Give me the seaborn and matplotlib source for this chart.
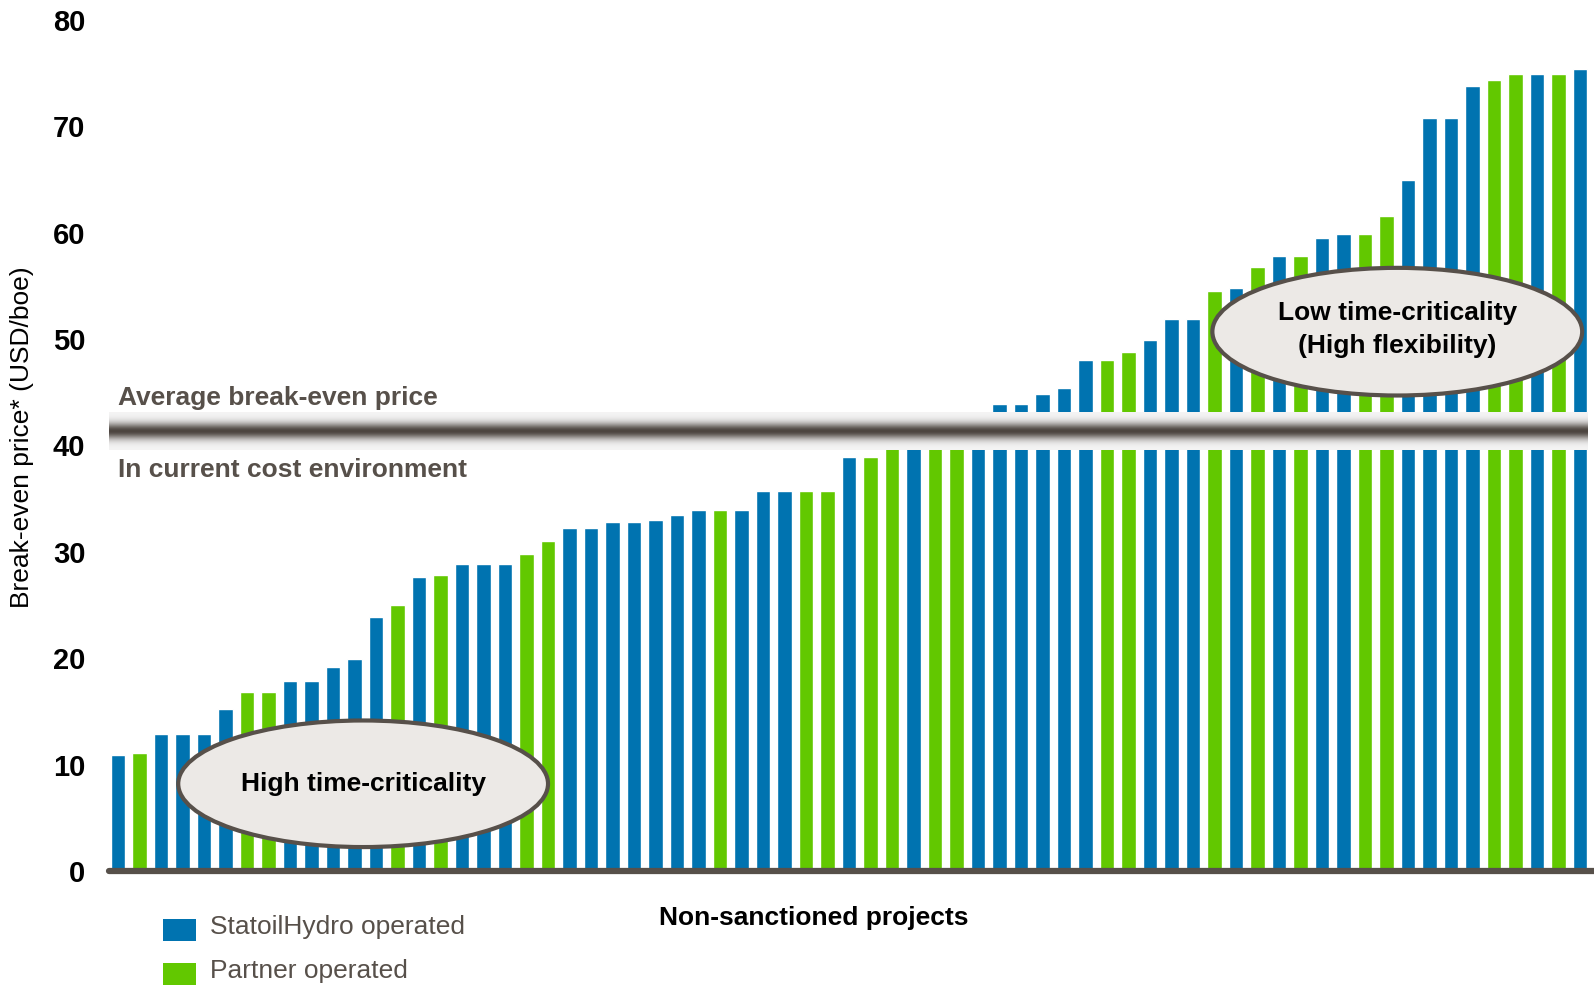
import numpy as np
import pandas as pd
import matplotlib
matplotlib.use("Agg")
import matplotlib.pyplot as plt
import seaborn as sns
from matplotlib.patches import Ellipse, Rectangle

# ---------------- data ----------------
prices = [10.9, 11.1, 12.9, 12.9, 12.9, 15.2, 16.8, 16.8, 17.9, 17.9,
          19.2, 19.9, 23.9, 25.0, 27.6, 27.8, 28.9, 28.9, 28.9, 29.8,
          31.0, 32.2, 32.2, 32.8, 32.8, 33.0, 33.5, 33.9, 33.9, 33.9,
          35.7, 35.7, 35.7, 35.7, 38.9, 38.9, 40.5, 41.0, 41.5, 42.0,
          42.5, 43.9, 43.9, 44.8, 45.4, 48.0, 48.0, 48.8, 49.9, 51.9,
          51.9, 54.5, 54.8, 56.8, 57.8, 57.8, 59.5, 59.9, 59.9, 61.6,
          65.0, 70.8, 70.8, 73.8, 74.4, 74.9, 74.9, 74.9, 75.4]
operator_codes = "SPSSSSPPSSSSSPSPSSSPPSSSSSSSPSSSPPSPPSPPSSSSSSPPSSSPSPSPSSPPSSSSPPSPS"
operator_names = {"S": "StatoilHydro operated", "P": "Partner operated"}
operators = [operator_names[c] for c in operator_codes]
y_ticks = [0, 10, 20, 30, 40, 50, 60, 70, 80]
avg_band = (39.6, 43.1)

BLUE = "#0073b0"
GREEN = "#62c800"
DARK = "#57504a"

sns.set_theme(style="white")
plt.rcParams["font.family"] = ["Liberation Sans", "DejaVu Sans"]

W, H = 1594, 986
fig = plt.figure(figsize=(W / 100, H / 100), dpi=100)
ax = fig.add_axes([109 / W, (H - 871) / H, 1 - 109 / W, (871 - 20) / H])

df = pd.DataFrame({"project": range(len(prices)), "price": prices, "operator": operators})
sns.barplot(data=df, x="project", y="price", hue="operator",
            palette={"StatoilHydro operated": BLUE, "Partner operated": GREEN},
            dodge=False, width=0.67, saturation=1, legend=False, ax=ax)

ax.set_xticks([])
ax.set_xlabel("")
ax.set_ylabel("")
ax.set_yticks(y_ticks)
ax.set_yticklabels([str(t) for t in y_ticks], fontsize=21, fontweight="bold", color="black")
ax.tick_params(axis="y", length=0, pad=17)
for s in ["left", "top", "right"]:
    ax.spines[s].set_visible(False)
ax.spines["bottom"].set_color(DARK)
ax.spines["bottom"].set_linewidth(4.5)
ax.spines["bottom"].set_capstyle("round")

# average band (gradient)
n = 200
t = np.linspace(-1, 1, n)
w = np.exp(-(t / 0.42) ** 2)
edge = np.array([0.96, 0.96, 0.96])
dark = np.array([0.30, 0.27, 0.25])
img = edge[None, :] + (dark - edge)[None, :] * w[:, None]
img = np.repeat(img[:, None, :], 2, axis=1)
ax.imshow(img, extent=[-0.42, 68.33, avg_band[0], avg_band[1]], aspect="auto",
          zorder=3, interpolation="bilinear")
ax.set_xlim(-0.42, 68.65)
ax.set_ylim(0, 80)

ax.text(0.0, 44.5, "Average break-even price", fontsize=19, fontweight="bold",
        color=DARK, ha="left", va="center", zorder=5)
ax.text(0.0, 37.7, "In current cost environment", fontsize=19, fontweight="bold",
        color=DARK, ha="left", va="center", zorder=5)

# ellipses
e1 = Ellipse((11.4, 8.2), 17.2, 11.9, facecolor="#ece9e6", edgecolor=DARK, lw=3, zorder=6)
ax.add_patch(e1)
ax.text(11.4, 8.2, "High time-criticality", fontsize=19, fontweight="bold",
        color="black", ha="center", va="center", zorder=7)
e2 = Ellipse((59.5, 50.7), 17.2, 12.0, facecolor="#ece9e6", edgecolor=DARK, lw=3, zorder=6)
ax.add_patch(e2)
ax.text(59.5, 50.9, "Low time-criticality\n(High flexibility)", fontsize=19, fontweight="bold",
        color="black", ha="center", va="center", linespacing=1.45, zorder=7)

# axis labels
fig.text(22 / W, 1 - 437 / H, "Break-even price* (USD/boe)", rotation=90,
         fontsize=19, color="black", ha="center", va="center")
fig.text(814 / W, 1 - 918 / H, "Non-sanctioned projects", fontsize=19,
         fontweight="bold", color="black", ha="center", va="center")

# legend
for (lab, col, yc) in [("StatoilHydro operated", BLUE, 930), ("Partner operated", GREEN, 974)]:
    fig.patches.append(Rectangle((163 / W, 1 - (yc + 11) / H), 33 / W, 22 / H,
                                 transform=fig.transFigure, facecolor=col, edgecolor="none"))
    fig.text(210 / W, 1 - (yc - 3) / H, lab, fontsize=19,
             color=DARK, ha="left", va="center")

fig.savefig("out.png", dpi=100)
